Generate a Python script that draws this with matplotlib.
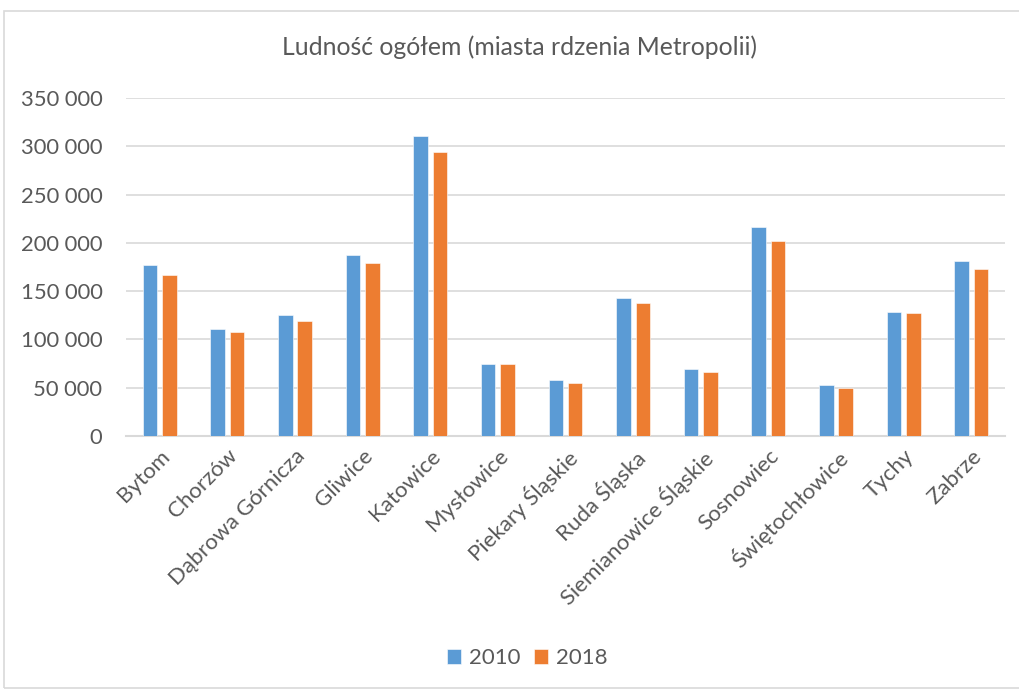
import matplotlib
matplotlib.use("Agg")
import matplotlib.pyplot as plt
import numpy as np
from matplotlib.patches import Rectangle
from matplotlib.ticker import FuncFormatter

cities = ["Bytom", "Chorzów", "Dąbrowa Górnicza", "Gliwice", "Katowice", "Mysłowice",
          "Piekary Śląskie", "Ruda Śląska", "Siemianowice Śląskie", "Sosnowiec",
          "Świętochłowice", "Tychy", "Zabrze"]
pop_2010 = [177000, 111300, 125800, 187300, 310700, 74900, 57700, 143300, 69800,
            216500, 52600, 128900, 180800]
pop_2018 = [166300, 107900, 119600, 179400, 293800, 74200, 55000, 137800, 66700,
            201700, 49800, 127500, 173200]
series_labels = ["2010", "2018"]
yticks = [0, 50000, 100000, 150000, 200000, 250000, 300000, 350000]

blue = "#5B9BD5"
orange = "#ED7D31"
txt = "#595959"
grid = "#D9D9D9"

plt.rcParams['font.family'] = ['Lato', 'DejaVu Sans']

fig = plt.figure(figsize=(10.19, 6.91), dpi=100)
W, H = 1019, 691
ax = fig.add_axes([126 / W, 1 - 436 / H, (1005 - 126) / W, (436 - 98) / H])

x = np.arange(len(cities))
bw = 0.215
off = 0.143
ax.bar(x - off, pop_2010, bw, color=blue, edgecolor="white", linewidth=0.4,
       label=series_labels[0], zorder=3)
ax.bar(x + off, pop_2018, bw, color=orange, edgecolor="white", linewidth=0.4,
       label=series_labels[1], zorder=3)

ax.set_xlim(-0.5, len(cities) - 0.5)
ax.set_ylim(0, 350000)
ax.set_yticks(yticks)
ax.yaxis.set_major_formatter(FuncFormatter(lambda v, p: f"{int(v):,}".replace(",", " ")))
ax.grid(axis="y", color=grid, linewidth=1.2, zorder=0)
for s in ["top", "right", "left"]:
    ax.spines[s].set_visible(False)
ax.spines["bottom"].set_color(grid)
ax.spines["bottom"].set_linewidth(1.5)
ax.tick_params(axis="y", length=0, labelsize=15.8, labelcolor=txt, pad=17)
ax.tick_params(axis="x", length=0, labelsize=16, labelcolor=txt, pad=7)
ax.set_xticks(x)
ax.set_xticklabels(cities, rotation=45, ha="right", rotation_mode="anchor")

fig.text(520 / W, 1 - 47 / H, "Ludność ogółem (miasta rdzenia Metropolii)",
         ha="center", va="center", fontsize=17.8, color=txt)

leg = fig.legend(loc="center", bbox_to_anchor=(527 / W, 1 - 658 / H), ncol=2,
                 frameon=False, fontsize=16, handlelength=0.65, handleheight=0.65,
                 handletextpad=0.35, columnspacing=0.6)
for t in leg.get_texts():
    t.set_color(txt)

fig.patches.append(Rectangle((4 / W, 1 - 688 / H), 1.1, (688 - 11) / H,
                             transform=fig.transFigure, fill=False,
                             edgecolor=grid, linewidth=1.2))

fig.savefig("out.png", dpi=100)
